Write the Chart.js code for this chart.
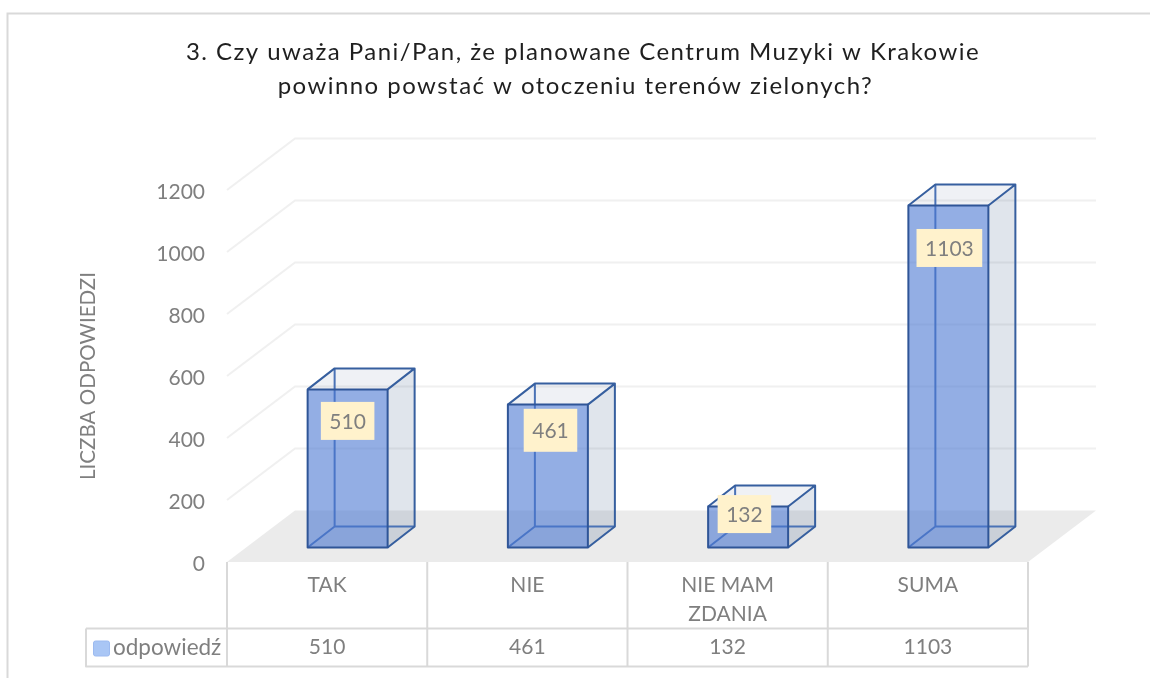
<!DOCTYPE html>
<html><head><meta charset="utf-8">
<style>html,body{margin:0;padding:0;background:#fff}canvas{display:block}</style>
<script src="https://cdn.jsdelivr.net/npm/chart.js@4"></script>
</head><body><canvas id="c" width="1150" height="678"></canvas>
<script>
const categories = [["TAK"], ["NIE"], ["NIE MAM", "ZDANIA"], ["SUMA"]];
const seriesName = "odpowiedź";
const seriesValues = [510, 461, 132, 1103];
const titleLines = ["3. Czy uważa Pani/Pan, że planowane Centrum Muzyki w Krakowie", "powinno powstać w otoczeniu terenów zielonych?  "];
const axisTitle = "LICZBA ODPOWIEDZI";
const axisMax = 1200, axisStep = 200;

const FONT = "Lato, Carlito, sans-serif";
const TXT = "#7f7f7f", LINE = "#d9d9d9", GRID = "#f0f0f0", EDGE = "#2f5597";
const WALL = {dx: 68, dy: -51.5};
const BAR = {dx: 27, dy: -21, shiftX: 20.5, shiftY: -14.5};
const labelDrop = [31.5, 25.7, 7.5, 42.4];
const labelNudge = [0, 2.6, -3.7, 1];
const labelHeight = [38, 43, 38, 38];

const plugin3d = {
  id: "plugin3d",
  beforeLayout(chart) {
    const tb = chart.titleBlock;
    if (tb && !tb._spaced) {
      const d = tb.draw;
      tb.draw = function (a) { const c = chart.ctx; c.save(); c.letterSpacing = "1.45px"; d.call(tb, a); c.restore(); };
      tb._spaced = true;
    }
  },
  afterLayout(chart) { const tb = chart.titleBlock; tb.left = 16; tb.right = 1150; },
  beforeDraw(chart) {
    const c = chart.ctx;
    c.save();
    c.fillStyle = "#fff"; c.fillRect(0, 0, 1150, 678);
    c.strokeStyle = LINE; c.lineWidth = 2;
    c.beginPath(); c.moveTo(7.5, 678); c.lineTo(7.5, 13.5); c.lineTo(1150, 13.5); c.stroke();
    c.restore();
  },
  beforeDatasetsDraw(chart) {
    const c = chart.ctx, a = chart.chartArea, y = chart.scales.y;
    c.save();
    c.fillStyle = "#ebebeb";
    const y0 = y.getPixelForValue(0);
    c.beginPath(); c.moveTo(a.left, y0); c.lineTo(a.right, y0);
    c.lineTo(a.right + WALL.dx, y0 + WALL.dy); c.lineTo(a.left + WALL.dx, y0 + WALL.dy); c.closePath(); c.fill();
    c.strokeStyle = GRID; c.lineWidth = 2;
    y.ticks.forEach(t => {
      if (t.value === 0) return;
      const p = y.getPixelForValue(t.value);
      c.beginPath(); c.moveTo(a.left, p); c.lineTo(a.left + WALL.dx, p + WALL.dy); c.lineTo(a.right + WALL.dx, p + WALL.dy); c.stroke();
    });
    chart.getDatasetMeta(0).data.forEach(b => {
      const L = b.x - b.width / 2 + BAR.shiftX, R = b.x + b.width / 2 + BAR.shiftX;
      const T = b.y + BAR.shiftY, B = b.base + BAR.shiftY, dx = BAR.dx, dy = BAR.dy;
      const quad = (pts, f) => { c.beginPath(); pts.forEach((q, i) => i ? c.lineTo(q[0], q[1]) : c.moveTo(q[0], q[1])); c.closePath(); c.fillStyle = f; c.fill(); };
      quad([[R, T], [R + dx, T + dy], [R + dx, B + dy], [R, B]], "rgba(50,80,130,0.15)");
      quad([[L, T], [R, T], [R + dx, T + dy], [L + dx, T + dy]], "rgba(50,80,130,0.08)");
      quad([[L, B], [R, B], [R + dx, B + dy], [L + dx, B + dy]], "rgba(50,80,130,0.03)");
      c.lineJoin = "round";
      c.strokeStyle = "#4a72b6"; c.lineWidth = 2;
      c.beginPath(); c.moveTo(L + dx, T + dy); c.lineTo(L + dx, B + dy); c.lineTo(R + dx, B + dy); c.moveTo(L + dx, B + dy); c.lineTo(L, B); c.stroke();
      c.strokeStyle = "#365f9f";
      c.beginPath(); c.moveTo(L, T); c.lineTo(L + dx, T + dy); c.lineTo(R + dx, T + dy); c.lineTo(R, T);
      c.moveTo(R + dx, T + dy); c.lineTo(R + dx, B + dy); c.lineTo(R, B); c.stroke();
    });
    c.restore();
  },
  beforeDatasetDraw(chart) { chart.ctx.save(); chart.ctx.translate(BAR.shiftX, BAR.shiftY); },
  afterDatasetDraw(chart) { chart.ctx.restore(); },
  afterDatasetsDraw(chart) {
    const c = chart.ctx, x = chart.scales.x;
    c.save();
    c.strokeStyle = EDGE; c.lineWidth = 2; c.lineJoin = "round";
    chart.getDatasetMeta(0).data.forEach(b => {
      c.strokeRect(b.x - b.width / 2 + BAR.shiftX, b.y + BAR.shiftY, b.width, b.base - b.y);
    });
    c.textAlign = "center"; c.textBaseline = "middle"; c.font = "21px " + FONT;
    chart.getDatasetMeta(0).data.forEach((b, i) => {
      const cx = b.x + BAR.shiftX + labelNudge[i], cy = b.y + BAR.shiftY + labelDrop[i];
      const w = c.measureText(String(seriesValues[i])).width + 17, h = labelHeight[i];
      c.fillStyle = "#fff2cc"; c.fillRect(cx - w / 2, cy - h / 2, w, h);
      c.fillStyle = TXT; c.fillText(String(seriesValues[i]), cx, cy + 1);
    });
    const a = chart.chartArea, rowY = 628.5, botY = 666.5, leftX = 86;
    c.strokeStyle = LINE; c.lineWidth = 2;
    c.beginPath();
    const w = (a.right - a.left) / categories.length;
    for (let i = 0; i <= categories.length; i++) {
      const px = i < categories.length ? x.getPixelForTick(i) - w / 2 : x.getPixelForTick(i - 1) + w / 2;
      c.moveTo(px, a.bottom); c.lineTo(px, botY);
    }
    c.moveTo(leftX, rowY); c.lineTo(a.right, rowY);
    c.moveTo(leftX, rowY); c.lineTo(leftX, botY); c.lineTo(a.right, botY);
    c.stroke();
    c.fillStyle = TXT;
    seriesValues.forEach((v, i) => c.fillText(String(v), x.getPixelForTick(i), 647.5));
    c.textAlign = "left"; c.font = "22.5px " + FONT;
    c.fillText(seriesName, 113, 647.5);
    c.fillStyle = "#a9c6f5"; c.strokeStyle = "#9cbaf0"; c.lineWidth = 1;
    c.beginPath(); c.roundRect(93.5, 641, 16, 15, 2); c.fill(); c.stroke();
    c.restore();
  }
};

new Chart(document.getElementById("c"), {
  type: "bar",
  data: { labels: categories, datasets: [{
    label: seriesName, data: seriesValues,
    backgroundColor: "rgba(75,120,210,0.6)", borderColor: EDGE, borderWidth: 0, inflateAmount: 0,
    borderSkipped: false, barThickness: 80, clip: false
  }]},
  options: {
    responsive: false, animation: false,
    layout: { padding: { left: 0, right: 122, top: 0, bottom: 0 } },
    plugins: {
      legend: { display: false }, tooltip: { enabled: false },
      title: { display: true, text: titleLines, color: "#1f1f1f",
        font: { family: FONT, size: 24, weight: "normal", lineHeight: 34 / 24 },
        padding: { top: 35, bottom: 87 } }
    },
    scales: {
      x: {
        grid: { display: false, drawTicks: false }, border: { display: false },
        ticks: { color: TXT, font: { family: FONT, size: 21, lineHeight: 1.38 }, padding: 9, maxRotation: 0, autoSkip: false },
        afterFit(s) { s.height = 116; }
      },
      y: {
        min: 0, max: axisMax,
        grid: { display: false, drawTicks: false }, border: { display: false },
        ticks: { stepSize: axisStep, color: TXT, font: { family: FONT, size: 21 }, padding: 22, labelOffset: 2.5, callback: v => String(v) },
        title: { display: true, text: axisTitle, color: TXT, font: { family: FONT, size: 20.6 }, padding: { top: 76, bottom: 0 } },
        afterFit(s) { s.width = 227; }
      }
    }
  },
  plugins: [plugin3d]
});
</script></body></html>
